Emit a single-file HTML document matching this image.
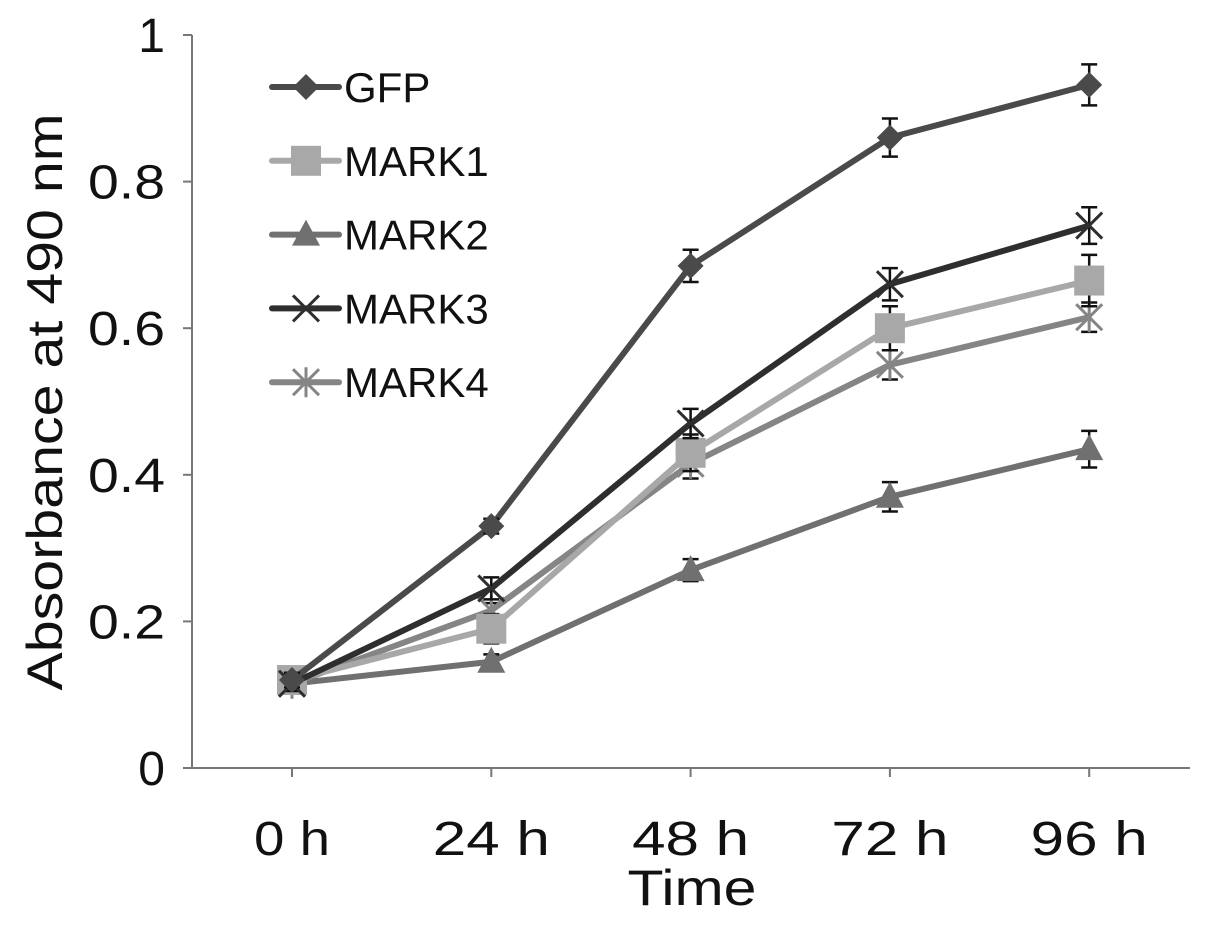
<!DOCTYPE html>
<html><head><meta charset="utf-8"><style>
html,body{margin:0;padding:0;background:#fff;}
svg{display:block;font-family:"Liberation Sans",Arial,sans-serif;}
</style></head><body>
<svg id="chart" width="1205" height="930">
<g id="axes"></g>
<g id="series"></g>
<g id="legend"></g>
<text x="62" y="402" font-size="50" text-anchor="middle" textLength="577" lengthAdjust="spacingAndGlyphs" transform="rotate(-90 62 402)" fill="#111">Absorbance at 490 nm</text>
<text x="692" y="905" font-size="50" text-anchor="middle" textLength="129" lengthAdjust="spacingAndGlyphs" fill="#111">Time</text>
</svg>
<script>
const categories = ["0 h","24 h","48 h","72 h","96 h"];
const yTicks = [0,0.2,0.4,0.6,0.8,1];
const yTickLabels = ["0","0.2","0.4","0.6","0.8","1"];
const seriesNames = ["GFP","MARK1","MARK2","MARK3","MARK4"];
const gfp = [0.12,0.33,0.685,0.86,0.932];
const mark1 = [0.12,0.19,0.43,0.60,0.665];
const mark2 = [0.115,0.145,0.27,0.37,0.435];
const mark3 = [0.115,0.245,0.47,0.66,0.74];
const mark4 = [0.115,0.215,0.415,0.55,0.615];
const gfpErr = [0.01,0.01,0.022,0.026,0.028];
const mark1Err = [0.01,0.02,0.025,0.03,0.035];
const mark2Err = [0.01,0.01,0.015,0.02,0.025];
const mark3Err = [0.01,0.015,0.02,0.022,0.025];
const mark4Err = [0.01,0.01,0.02,0.02,0.02];

const NS="http://www.w3.org/2000/svg";
const x0=192,x1=1190,y0=768,y1=35;
function yS(v){return y0-(y0-y1)*v;}
function xS(i){return 292+i*199.3;}
function mk(t,a,p){const e=document.createElementNS(NS,t);for(const k in a)e.setAttribute(k,a[k]);p.appendChild(e);return e;}
const axes=document.getElementById('axes');
const ya=mk('line',{x1:x0,y1:y1,x2:x0,y2:y0,stroke:'#777','stroke-width':2},axes);


const xa=mk('line',{x1:x0,y1:y0,x2:x1,y2:y0,stroke:'#777','stroke-width':2},axes);


yTicks.forEach((v,i)=>{
  mk('line',{x1:x0-9,y1:yS(v),x2:x0,y2:yS(v),stroke:'#777','stroke-width':2},axes);
  const t=mk('text',{x:165,y:yS(v)+17,'font-size':48,'text-anchor':'end',fill:'#111'},axes);
  t.textContent=yTickLabels[i];
  if(yTickLabels[i].length>1){t.setAttribute('textLength',77);t.setAttribute('lengthAdjust','spacingAndGlyphs');}
  
  
});
categories.forEach((c,i)=>{
  mk('line',{x1:xS(i),y1:y0,x2:xS(i),y2:y0+9,stroke:'#777','stroke-width':2},axes);
  const t=mk('text',{x:xS(i),y:855,'font-size':48,'text-anchor':'middle',fill:'#111',textLength:c.length>3?117:76,lengthAdjust:'spacingAndGlyphs'},axes);
  t.textContent=c;
  
  
});
const colors=['#4a4a4a','#a8a8a8','#707070','#2e2e2e','#858585'];
const shapes=['diamond','square','triangle','x','star'];
function marker(g,s,cx,cy,col){
  if(s==='diamond')mk('polygon',{points:`${cx},${cy-13} ${cx+13},${cy} ${cx},${cy+13} ${cx-13},${cy}`,fill:col},g);
  else if(s==='square')mk('rect',{x:cx-15,y:cy-15,width:30,height:30,fill:col},g);
  else if(s==='triangle')mk('polygon',{points:`${cx},${cy-15} ${cx+14},${cy+11} ${cx-14},${cy+11}`,fill:col},g);
  else if(s==='x'){mk('path',{d:`M${cx-13},${cy-13}L${cx+13},${cy+13}M${cx+13},${cy-13}L${cx-13},${cy+13}`,stroke:col,'stroke-width':3,fill:'none'},g);}
  else {mk('path',{d:`M${cx-13},${cy-13}L${cx+13},${cy+13}M${cx+13},${cy-13}L${cx-13},${cy+13}M${cx},${cy-15}L${cx},${cy+15}`,stroke:col,'stroke-width':3,fill:'none'},g);}
}
const data=[gfp,mark1,mark2,mark3,mark4];
const errs=[gfpErr,mark1Err,mark2Err,mark3Err,mark4Err];
const sg=document.getElementById('series');
const order=[2,4,1,3,0];
order.forEach(k=>{
  const g=mk('g',{},sg);
  
  
  const d=data[k];
  mk('polyline',{points:d.map((v,i)=>xS(i)+','+yS(v)).join(' '),fill:'none',stroke:colors[k],'stroke-width':6,'stroke-linejoin':'round'},g);
  d.forEach((v,i)=>{
    const e=errs[k][i],x=xS(i);
    mk('path',{d:`M${x},${yS(v-e)}L${x},${yS(v+e)}M${x-8},${yS(v-e)}L${x+8},${yS(v-e)}M${x-8},${yS(v+e)}L${x+8},${yS(v+e)}`,stroke:'#111','stroke-width':2.5,fill:'none'},g);
    marker(g,shapes[k],x,yS(v),colors[k]);
  });
});
const lg=document.getElementById('legend');
seriesNames.forEach((n,k)=>{
  const y=87+k*73.8;
  const g=mk('g',{},lg);
  
  
  mk('line',{x1:272,y1:y,x2:339,y2:y,stroke:colors[k],'stroke-width':6,'stroke-linecap':'round'},g);
  marker(g,shapes[k],306,y,colors[k]);
  const t=mk('text',{x:344,y:y+15,'font-size':42,fill:'#111'},g);
  t.textContent=n;
});
</script>
</body></html>
